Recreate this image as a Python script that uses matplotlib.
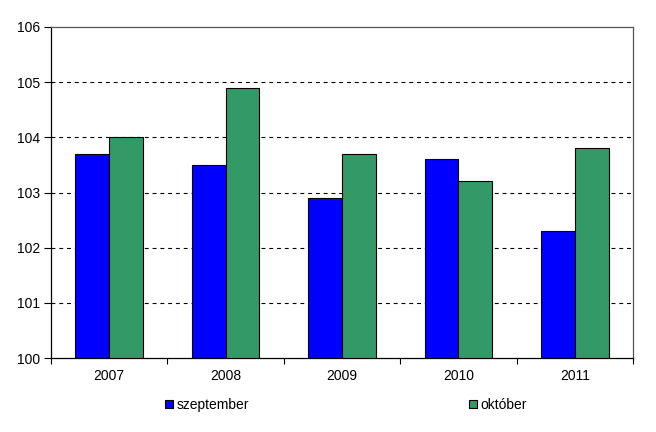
import matplotlib
matplotlib.use("Agg")
import matplotlib.pyplot as plt
import numpy as np

years = ["2007", "2008", "2009", "2010", "2011"]
szeptember = [103.7, 103.5, 102.9, 103.6, 102.3]
oktober = [104.0, 104.9, 103.7, 103.2, 103.8]
series_names = ["szeptember", "október"]
colors = ["#0000FF", "#339966"]

plt.rcParams["font.family"] = ["Liberation Sans", "DejaVu Sans"]
fig = plt.figure(figsize=(6.56, 4.32), dpi=100)
W, H = 656, 432
ax = fig.add_axes([51 / W, 1 - 358 / H, (633 - 51) / W, (358 - 27) / H])

x = np.arange(len(years))
bw = 0.29
b1 = ax.bar(x - bw / 2, np.array(szeptember) - 100, bw, bottom=100, color=colors[0],
            edgecolor="black", linewidth=0.8, zorder=3, label=series_names[0])
b2 = ax.bar(x + bw / 2, np.array(oktober) - 100, bw, bottom=100, color=colors[1],
            edgecolor="black", linewidth=0.8, zorder=3, label=series_names[1])

ax.set_xlim(-0.5, len(years) - 0.5)
ax.set_ylim(100, 106)
ax.set_yticks(np.arange(100, 107, 1))
ax.set_yticklabels([str(v) for v in range(100, 107)], fontsize=10)
for yv in range(101, 106):
    ax.axhline(yv, color="black", linewidth=0.8, linestyle=(0, (3.5, 3.5)), zorder=1)

ax.set_xticks(np.arange(-0.5, len(years), 1))
ax.set_xticklabels([])
ax.set_xticks(x, minor=True)
ax.set_xticklabels(years, minor=True, fontsize=10)
ax.tick_params(axis="x", which="minor", length=0, pad=8)
ax.tick_params(axis="x", which="major", length=4, direction="out", width=0.8)
ax.tick_params(axis="y", length=5, direction="out", width=0.8, pad=3)

for s in ["left", "bottom"]:
    ax.spines[s].set_color("black")
    ax.spines[s].set_linewidth(0.9)
for s in ["top", "right"]:
    ax.spines[s].set_color("#555555")
    ax.spines[s].set_linewidth(0.9)

common = dict(frameon=False, fontsize=10, handlelength=0.55, handleheight=0.55,
              handletextpad=0.3, loc="center left", borderpad=0, borderaxespad=0)
l1 = fig.legend([b1], [series_names[0]], bbox_to_anchor=(165 / W, 1 - 405 / H), **common)
l2 = fig.legend([b2], [series_names[1]], bbox_to_anchor=(469 / W, 1 - 405 / H), **common)

fig.savefig("out.png", dpi=100)
